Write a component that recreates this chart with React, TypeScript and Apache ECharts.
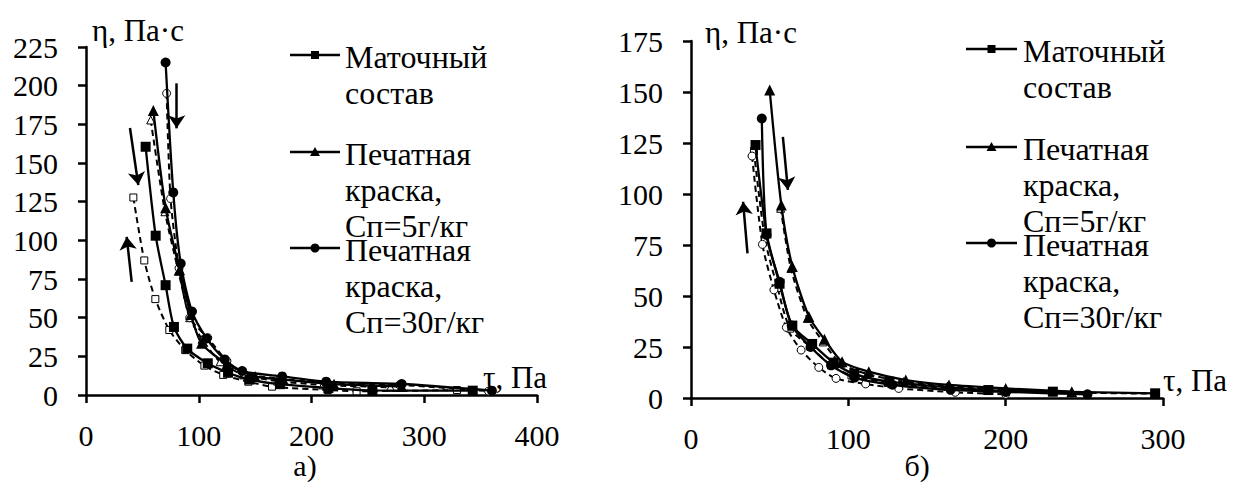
import React, { useEffect, useRef } from "react";
import * as echarts from "echarts";

const FONT = "Liberation Serif";

// ---- Chart а) ----
const aSqDownX = [52.9, 61.8, 70.6, 78, 89.8, 108, 126, 145, 172, 215, 254, 343];
const aSqDownY = [160.5, 103, 71, 44, 30, 20.5, 14.4, 10, 7, 4.5, 3, 2.8];
const aSqUpX = [42, 51.7, 61.5, 73.9, 88, 105, 121.7, 144, 165, 214.5, 240, 329];
const aSqUpY = [127.7, 87, 62, 42, 29, 19, 13, 8.6, 5.4, 3.2, 2.4, 3.2];
const aTrDownX = [59.7, 70.6, 83, 93, 102.5, 125, 150, 175, 220, 280];
const aTrDownY = [184, 121, 81, 52, 33.4, 20, 12, 10, 7, 5.5];
const aTrUpX = [57.4, 70, 82, 92, 103, 119, 140, 170, 210, 270];
const aTrUpY = [177.8, 118.5, 80, 50, 36, 21.5, 13, 9, 6.5, 5];
const aCiDownX = [70.6, 77.4, 84, 94, 107, 123, 138.5, 174, 213, 280, 360];
const aCiDownY = [215, 131, 85, 54, 36.6, 23, 15.5, 12, 8.6, 7.1, 2.8];
const aCiUpX = [71.5, 75, 82.5, 92, 108, 125, 140, 172, 212, 278, 357];
const aCiUpY = [195, 127, 82, 50, 37, 22, 14, 10.5, 8, 6.5, 2.5];

// ---- Chart б) ----
const bSqDownX = [41, 48, 56.3, 64.4, 77, 90.7, 103.8, 126, 189, 230, 295];
const bSqDownY = [124, 80.7, 56, 35.5, 26.5, 17.3, 11.8, 8, 3.9, 3.1, 2.3];
const bSqUpX = [40, 47, 55, 63, 76, 89, 102, 125, 188, 230, 295];
const bSqUpY = [121, 78, 54, 34, 25, 16, 11, 7.5, 3.6, 2.8, 2.1];
const bTrDownX = [50, 57.4, 64.4, 74.9, 84.8, 96, 113, 136.5, 164, 200, 242];
const bTrDownY = [151, 94.6, 64.5, 40, 28.8, 17.8, 12.9, 8.8, 6.4, 4.7, 3.1];
const bTrUpX = [57, 63.5, 74, 84, 95, 112, 135, 163, 200, 242];
const bTrUpY = [93, 63.5, 39, 27.5, 17, 11.8, 8, 5.8, 4.2, 2.8];
const bCiDownX = [45, 48, 56.3, 64, 76, 89, 104, 128, 165, 200, 252];
const bCiDownY = [137, 80, 57, 35.5, 25, 16, 10, 6.5, 4, 3, 1.8];
const bCiUpX = [38.8, 45.4, 52.7, 60.6, 70, 81.2, 92.2, 111, 132, 168, 200];
const bCiUpY = [118.6, 75.3, 53, 34.6, 23.5, 15, 9.6, 6.9, 4.7, 2.8, 1.8];

// arrows [x1, y1, x2, y2] in data units
const aArrows = [
  [39, 172.6, 46.4, 135.7],
  [40.5, 73.2, 36.1, 102.3],
  [80.4, 201.5, 80.4, 172.4],
];
const bArrows = [
  [35.9, 70.9, 33.1, 96.2],
  [58.4, 128, 61.6, 102],
];

const legendNames = ["Маточный\nсостав", "Печатная\nкраска,\nСп=5г/кг", "Печатная\nкраска,\nСп=30г/кг"];
const xTicksA = [0, 400, 100];
const xTicksB = [0, 300, 100];
const yTicksA = [0, 225, 25];
const yTicksB = [0, 175, 25];
const panelLabels = ["а)", "б)"];

function zip(xs: number[], ys: number[]) {
  return xs.map((x, i) => [x, ys[i]]);
}

function mk(
  name: string,
  idx: number,
  xs: number[],
  ys: number[],
  symbol: string,
  filled: boolean,
  size: number,
  arrows?: number[][]
): any {
  const s: any = {
    name,
    type: "line",
    xAxisIndex: idx,
    yAxisIndex: idx,
    data: zip(xs, ys),
    smooth: 0.25,
    symbol,
    symbolSize: size,
    showAllSymbol: true,
    z: filled ? 3 : 2,
    lineStyle: filled
      ? { color: "#000", width: 2.3, type: "solid" }
      : { color: "#000", width: 2, type: [6, 4] },
    itemStyle: filled
      ? { color: "#000", borderColor: "#000", borderWidth: 0 }
      : { color: "#fff", borderColor: "#000", borderWidth: 1 },
  };
  if (arrows) {
    s.markLine = {
      silent: true,
      symbol: ["none", "arrow"],
      symbolSize: 13,
      label: { show: false },
      lineStyle: { color: "#000", width: 2.5, type: "solid" },
      data: arrows.map((a) => [{ coord: [a[0], a[1]] }, { coord: [a[2], a[3]] }]),
    };
  }
  return s;
}

function axisCommon() {
  return {
    type: "value",
    axisLine: { show: true, onZero: false, lineStyle: { color: "#000", width: 2.5 } },
    axisTick: { show: true, inside: false, length: 8, lineStyle: { color: "#000", width: 2.5 } },
    splitLine: { show: false },
  };
}

function legendGraphic(lineX1: number, lineX2: number, textX: number, ys: number[]): any[] {
  const els: any[] = [];
  const mx = (lineX1 + lineX2) / 2;
  ys.forEach((y, i) => {
    els.push({
      type: "line",
      shape: { x1: lineX1, y1: y, x2: lineX2, y2: y },
      style: { stroke: "#000", lineWidth: 2.5 },
    });
    if (i === 0) {
      els.push({ type: "rect", shape: { x: mx - 4, y: y - 4, width: 8, height: 8 }, style: { fill: "#000" } });
    } else if (i === 1) {
      els.push({
        type: "polygon",
        shape: { points: [[mx, y - 5], [mx - 5, y + 4], [mx + 5, y + 4]] },
        style: { fill: "#000" },
      });
    } else {
      els.push({ type: "circle", shape: { cx: mx, cy: y, r: 4.5 }, style: { fill: "#000" } });
    }
    els.push({
      type: "text",
      x: textX,
      y: y + 2 - 18,
      style: {
        text: legendNames[i],
        fontSize: 32,
        fontFamily: FONT,
        fill: "#000",
        lineHeight: 36,
        verticalAlign: "top",
        align: "left",
      },
    });
  });
  return els;
}

const labelStyle = { color: "#000", fontSize: 30, fontFamily: FONT };
const nameStyle = { color: "#000", fontSize: 31, fontFamily: FONT };

export default function App() {
  const ref = useRef<HTMLDivElement>(null);
  useEffect(() => {
    if (!ref.current) return;
    const chart = echarts.init(ref.current, undefined, { renderer: "svg" });
    const option: any = {
      animation: false,
      backgroundColor: "#fff",
      textStyle: { fontFamily: FONT },
      grid: [
        { left: 86, top: 47, width: 451, height: 348 },
        { left: 691, top: 41, width: 472, height: 357 },
      ],
      xAxis: [
        {
          ...axisCommon(),
          gridIndex: 0,
          min: xTicksA[0],
          max: xTicksA[1],
          interval: xTicksA[2],
          name: "τ, Па",
          nameLocation: "end",
          nameGap: -54,
          nameTextStyle: { ...nameStyle, verticalAlign: "bottom", padding: [0, 0, 2, 0] },
          axisLabel: { ...labelStyle, margin: 25 },
        },
        {
          ...axisCommon(),
          gridIndex: 1,
          min: xTicksB[0],
          max: xTicksB[1],
          interval: xTicksB[2],
          name: "τ, Па",
          nameLocation: "end",
          nameGap: 0,
          nameTextStyle: { ...nameStyle, verticalAlign: "bottom", padding: [0, 0, 2, 0] },
          axisLabel: { ...labelStyle, margin: 25 },
        },
      ],
      yAxis: [
        {
          ...axisCommon(),
          gridIndex: 0,
          min: yTicksA[0],
          max: yTicksA[1],
          interval: yTicksA[2],
          name: "η, Па·с",
          nameLocation: "end",
          nameGap: 17,
          nameTextStyle: { ...nameStyle, align: "left", verticalAlign: "middle", padding: [0, 0, 0, 6] },
          axisLabel: { ...labelStyle, margin: 28 },
        },
        {
          ...axisCommon(),
          gridIndex: 1,
          min: yTicksB[0],
          max: yTicksB[1],
          interval: yTicksB[2],
          name: "η, Па·с",
          nameLocation: "end",
          nameGap: 9,
          nameTextStyle: { ...nameStyle, align: "left", verticalAlign: "middle", padding: [0, 0, 0, 14] },
          axisLabel: { ...labelStyle, margin: 28 },
        },
      ],
      series: [
        mk("a-sq-up", 0, aSqUpX, aSqUpY, "rect", false, 7),
        mk("a-tr-up", 0, aTrUpX, aTrUpY, "triangle", false, 8),
        mk("a-ci-up", 0, aCiUpX, aCiUpY, "circle", false, 8),
        mk("a-sq-down", 0, aSqDownX, aSqDownY, "rect", true, 10, aArrows),
        mk("a-tr-down", 0, aTrDownX, aTrDownY, "triangle", true, 11),
        mk("a-ci-down", 0, aCiDownX, aCiDownY, "circle", true, 10),
        mk("b-sq-up", 1, bSqUpX, bSqUpY, "rect", false, 7),
        mk("b-tr-up", 1, bTrUpX, bTrUpY, "triangle", false, 8),
        mk("b-ci-up", 1, bCiUpX, bCiUpY, "circle", false, 8),
        mk("b-sq-down", 1, bSqDownX, bSqDownY, "rect", true, 10, bArrows),
        mk("b-tr-down", 1, bTrDownX, bTrDownY, "triangle", true, 11),
        mk("b-ci-down", 1, bCiDownX, bCiDownY, "circle", true, 10),
      ],
      graphic: [
        ...legendGraphic(290, 340, 345, [55, 152, 248]),
        ...legendGraphic(966, 1017, 1023, [49, 147, 243]),
        {
          type: "text",
          x: 305,
          y: 465,
          style: { text: panelLabels[0], fontSize: 30, fontFamily: FONT, fill: "#000", align: "center", verticalAlign: "middle" },
        },
        {
          type: "text",
          x: 917,
          y: 465,
          style: { text: panelLabels[1], fontSize: 30, fontFamily: FONT, fill: "#000", align: "center", verticalAlign: "middle" },
        },
      ],
    };
    chart.setOption(option);
    return () => chart.dispose();
  }, []);
  return (
    <div
      ref={ref}
      style={{ position: "fixed", left: 0, top: 0, width: 1234, height: 492, background: "#fff" }}
    />
  );
}
